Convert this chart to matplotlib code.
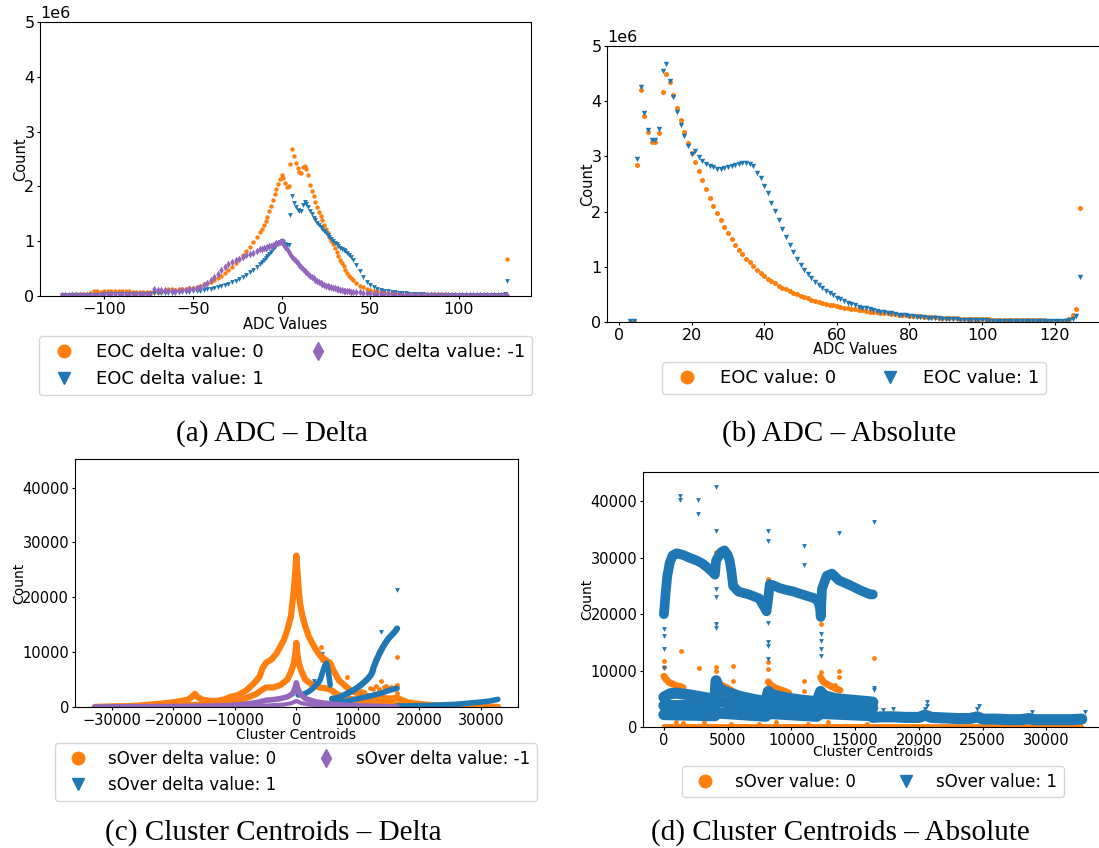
import matplotlib
matplotlib.use('Agg')
import matplotlib.pyplot as plt
from matplotlib.lines import Line2D
import numpy as np

ORANGE = '#ff7f0e'
BLUE = '#1f77b4'
PURPLE = '#9467bd'
nan = np.nan

# ---------------- (a) ADC - Delta (counts in millions) ----------------
xa = list(range(-124, -11, 2)) + list(range(-11, 41)) + list(range(42, 127, 2)) + [127]
ya_0 = [0.02, 0.02, 0.025, 0.03, 0.03, 0.03, 0.035, 0.04, 0.05, 0.085,
        0.085, 0.08, 0.085, 0.1, 0.1, 0.095, 0.09, 0.09, 0.085, 0.085,
        0.08, 0.08, 0.075, 0.075, 0.07, 0.07, 0.07, 0.075, 0.08, 0.1,
        0.12, 0.12, 0.115, 0.12, 0.125, 0.13, 0.14, 0.155, 0.17, 0.19,
        0.21, 0.23, 0.26, 0.29, 0.33, 0.37, 0.42, 0.47, 0.53, 0.6,
        0.67, 0.74, 0.82, 0.9, 0.98, 1.07, 1.17,
        1.23, 1.3, 1.37, 1.45, 1.55, 1.65, 1.76, 1.86, 1.95, 2.05,
        2.13, 2.2, 2.15, 2.06, 1.98, 2.0, 2.4, 2.69, 2.56, 2.43,
        2.34, 2.26, 2.24, 2.36, 2.38, 2.32, 2.2, 2.02, 1.92, 1.82,
        1.72, 1.62, 1.54, 1.46, 1.38, 1.3, 1.22, 1.15, 1.08, 1.01,
        0.94, 0.87, 0.8, 0.73, 0.66, 0.6, 0.54, 0.48, 0.42, 0.37,
        0.33, 0.29,
        0.23, 0.19, 0.16, 0.13, 0.11, 0.095, 0.085, 0.075, 0.065, 0.06,
        0.055, 0.05, 0.05, 0.045, 0.045, 0.04, 0.04, 0.04, 0.035, 0.035,
        0.035, 0.03, 0.03, 0.03, 0.03, 0.03, 0.025, 0.025, 0.025, 0.025,
        0.025, 0.025, 0.02, 0.02, 0.02, 0.02, 0.02, 0.02, 0.02, 0.02,
        0.015, 0.015, 0.04, 0.68]
ya_1 = [0.01, 0.01, 0.012, 0.015, 0.015, 0.018, 0.02, 0.02, 0.022, 0.025,
        0.025, 0.025, 0.028, 0.03, 0.03, 0.03, 0.032, 0.035, 0.035, 0.035,
        0.038, 0.04, 0.04, 0.04, 0.042, 0.045, 0.05, 0.05, 0.052, 0.055,
        0.058, 0.06, 0.063, 0.067, 0.07, 0.075, 0.08, 0.085, 0.09, 0.1,
        0.11, 0.12, 0.13, 0.145, 0.16, 0.18, 0.2, 0.22, 0.25, 0.28,
        0.31, 0.35, 0.39, 0.43, 0.48, 0.53, 0.59,
        0.62, 0.65, 0.69, 0.73, 0.77, 0.81, 0.85, 0.89, 0.93, 0.96,
        0.99, 1.01, 0.98, 0.95, 0.93, 0.93, 1.47, 1.82, 1.70, 1.62,
        1.57, 1.55, 1.56, 1.66, 1.71, 1.68, 1.62, 1.55, 1.49, 1.43,
        1.38, 1.34, 1.30, 1.26, 1.22, 1.18, 1.15, 1.11, 1.08, 1.04,
        1.0, 0.97, 0.94, 0.91, 0.88, 0.86, 0.84, 0.82, 0.79, 0.75,
        0.71, 0.66,
        0.56, 0.45, 0.35, 0.26, 0.2, 0.16, 0.13, 0.11, 0.095, 0.085,
        0.075, 0.065, 0.058, 0.052, 0.047, 0.042, 0.038, 0.034, 0.03, 0.028,
        0.025, 0.023, 0.021, 0.02, 0.018, 0.017, 0.016, 0.015, 0.014, 0.013,
        0.012, 0.012, 0.011, 0.011, 0.01, 0.01, 0.01, 0.01, 0.01, 0.01,
        0.01, 0.01, 0.03, 0.27]
ya_m1 = [0.02, 0.02, 0.02, 0.022, 0.022, 0.024, 0.024, 0.025, 0.025, 0.026,
         0.026, 0.027, 0.028, 0.028, 0.029, 0.03, 0.03, 0.031, 0.032, 0.032,
         0.033, 0.034, 0.035, 0.036, 0.037, 0.038, 0.12, 0.115, 0.11, 0.105,
         0.1, 0.1, 0.1, 0.1, 0.105, 0.11, 0.12, 0.13, 0.15, 0.17,
         0.2, 0.24, 0.29, 0.35, 0.41, 0.47, 0.53, 0.58, 0.62, 0.65,
         0.68, 0.71, 0.74, 0.76, 0.79, 0.82, 0.85,
         0.86, 0.87, 0.88, 0.9, 0.91, 0.92, 0.93, 0.94, 0.96, 0.97,
         0.99, 1.0, 0.94, 0.89, 0.85, 0.8, 0.76, 0.72, 0.68, 0.64,
         0.6, 0.56, 0.53, 0.49, 0.46, 0.43, 0.4, 0.37, 0.34, 0.32,
         0.3, 0.28, 0.26, 0.24, 0.22, 0.2, 0.19, 0.18, 0.17, 0.16,
         0.15, 0.14, 0.13, 0.12, 0.115, 0.11, 0.1, 0.095, 0.09, 0.085,
         0.08, 0.076,
         0.07, 0.064, 0.058, 0.053, 0.049, 0.045, 0.041, 0.038, 0.035, 0.032,
         0.03, 0.028, 0.026, 0.024, 0.022, 0.021, 0.02, 0.019, 0.018, 0.017,
         0.016, 0.015, 0.015, 0.014, 0.014, 0.013, 0.013, 0.012, 0.012, 0.012,
         0.011, 0.011, 0.011, 0.01, 0.01, 0.01, 0.01, 0.01, 0.01, 0.01,
         0.01, 0.01, 0.01, 0.01]

# ---------------- (b) ADC - Absolute (counts in millions) ----------------
xb = list(range(3, 128))
yb_0 = [0.0, 0.01, 2.84, 4.21, 3.73, 3.44, 3.26, 3.26, 3.43, 4.17,
        4.50, 4.34, 4.11, 3.88, 3.66, 3.45, 3.25, 3.07, 2.90, 2.73,
        2.57, 2.41, 2.25, 2.11, 1.98, 1.84, 1.72, 1.61, 1.51, 1.40,
        1.31, 1.23, 1.15, 1.08, 1.01, 0.94, 0.88, 0.83, 0.78, 0.74,
        0.70, 0.66, 0.62, 0.60, 0.57, 0.52, 0.50, 0.47, 0.45, 0.43,
        0.40, 0.38, 0.36, 0.35, 0.33, 0.31, 0.30, 0.29, 0.28, 0.26,
        0.25, 0.24, 0.23, 0.22, 0.21, 0.20, 0.19, 0.185, 0.178, 0.17,
        0.162, 0.155, 0.148, 0.14, 0.132, 0.125, 0.12, 0.115, 0.11, 0.105,
        0.1, 0.095, 0.09, 0.086, 0.082, 0.078, 0.074, 0.07, 0.068, 0.066,
        0.064, 0.062, 0.06, 0.058, 0.056, 0.054, 0.052, 0.05, 0.048, 0.046,
        0.044, 0.042, 0.04, 0.039, 0.038, 0.037, 0.036, 0.035, 0.034, 0.033,
        0.032, 0.031, 0.03, 0.029, 0.028, 0.027, 0.026, 0.025, 0.025, 0.025,
        0.03, 0.05, 0.12, 0.23, 2.07]
yb_1 = [0.01, 0.01, 2.95, 4.26, 3.78, 3.48, 3.29, 3.30, 3.50, 4.54,
        4.67, 4.37, 4.07, 3.80, 3.56, 3.37, 3.19, 3.05, 3.09, 2.99,
        2.92, 2.87, 2.83, 2.80, 2.78, 2.78, 2.79, 2.80, 2.82, 2.84,
        2.86, 2.88, 2.88, 2.86, 2.82, 2.70, 2.60, 2.47, 2.33, 2.16,
        2.01, 1.84, 1.69, 1.54, 1.39, 1.26, 1.14, 1.04, 0.95, 0.87,
        0.80, 0.73, 0.67, 0.62, 0.57, 0.53, 0.49, 0.44, 0.41, 0.38,
        0.35, 0.33, 0.31, 0.28, 0.26, 0.25, 0.23, 0.21, 0.20, 0.19,
        0.178, 0.165, 0.155, 0.145, 0.135, 0.125, 0.118, 0.11, 0.103, 0.097,
        0.09, 0.085, 0.08, 0.075, 0.07, 0.065, 0.06, 0.055, 0.052, 0.049,
        0.046, 0.043, 0.04, 0.038, 0.036, 0.034, 0.032, 0.03, 0.029, 0.027,
        0.026, 0.024, 0.022, 0.021, 0.02, 0.019, 0.019, 0.018, 0.017, 0.017,
        0.016, 0.016, 0.015, 0.015, 0.014, 0.014, 0.013, 0.012, 0.012, 0.012,
        0.015, 0.03, 0.06, 0.10, 0.81]

# ---------------- (c) Cluster Centroids - Delta ----------------
xc_o1 = [-32768, -30000, -27000, -24500, -22000, -20000, -18700, -17600, -17000, -16500,
         -16100, -15300, -14100, -13000, -11800, -10700, -9500, -8100, -6900, -6000,
         -5500, -4900, -4000, -3200, -2600, -2000, -1450, -870, -580, -300,
         -150, 0, 150, 300, 580, 980, 1450, 2000, 2900, 3750,
         4600, 5500, 6000, 6900, 8100, 8900, 10100, 11800, 13500, 15300,
         16400, 17000, 18200, 20500, 23300, 26200, 29100, 32767]
yc_o1 = [0, 60, 150, 370, 610, 860, 1100, 1350, 1840, 2400,
         1840, 1350, 1100, 1100, 1350, 1840, 2150, 3070, 4300, 5500,
         7050, 8100, 8700, 9800, 11000, 12300, 14100, 16600, 19600, 22700,
         25000, 27600, 25000, 22700, 19000, 16600, 14700, 12900, 11000, 9500,
         8700, 8000, 6750, 4900, 3700, 2950, 2450, 1960, 1700, 1530,
         1700, 1350, 800, 490, 250, 120, 60, 0]
xc_o2 = [-32768, -25600, -19900, -16400, -14100, -11800, -10100, -8400, -6600, -5500,
         -4900, -3750, -2600, -1450, -870, -400, -150, 0, 150, 400,
         870, 1450, 2600, 3750, 4900, 5500, 6600, 8400, 10100, 12400,
         14700, 17000, 20500, 26200, 32767]
yc_o2 = [0, 120, 250, 370, 490, 740, 1100, 1530, 2330, 3200,
         3560, 3560, 4000, 5000, 6400, 8000, 9800, 11700, 9800, 8000,
         6400, 5000, 4000, 3560, 3370, 3200, 2330, 1530, 1230, 860,
         610, 370, 250, 120, 0]
xc_o3 = [4000, 4200, 4500, 4800, 5200, 5600, 8200, 10500, 11000, 12000, 12500, 13000,
         13500, 13800, 14200, 14600, 15000, 15400, 15800, 16200, 16400, 16400, 16400, 4030]
yc_o3 = [9000, 8600, 8300, 8600, 8200, 7800, 5500, 3000, 2800, 3500, 3200, 3800,
         3300, 4800, 3600, 3900, 3400, 3700, 3500, 3800, 4000, 9100, 2600, 10900]
xc_b1 = [300, 1000, 1500, 2000, 2600, 3000, 3500, 3900, 4300, 4600, 4900, 5200, 5500]
yc_b1 = [2200, 2300, 2500, 2800, 3300, 3800, 4300, 5000, 6500, 7500, 8000, 6500, 4000]
xc_b2 = [5800, 6600, 7500, 8500, 9500, 10500, 11500, 12100, 12400, 12500, 13000, 13500,
         14000, 14500, 15000, 15500, 16000, 16384]
yc_b2 = [1500, 1600, 2000, 2600, 3200, 4000, 5000, 5800, 6500, 7000, 8500, 9700,
         10800, 11700, 12500, 13100, 13700, 14300]
xc_b3 = [4500, 6000, 8000, 10000, 12000, 13000, 14000, 15000, 16384]
yc_b3 = [300, 600, 1000, 1500, 2000, 2300, 2600, 3000, 3400]
xc_b4 = [16400, 18000, 20000, 22000, 24000, 26000, 28000, 30000, 31500, 32767]
yc_b4 = [200, 200, 250, 300, 400, 500, 700, 900, 1100, 1400]
xc_b5 = [16400, 13700, 4100, 2900, 2500]
yc_b5 = [21300, 13600, 9600, 4700, 4400]
xc_p1 = [-32768, -25600, -17000, -11200, -8400, -6000, -4900, -3750, -2600, -1450, -580,
         -200, 0, 200, 580, 1450, 3200, 6000, 8900, 14700, 16384]
yc_p1 = [0, 60, 120, 250, 490, 920, 1230, 1350, 1530, 1840, 2450,
         3500, 4400, 3500, 2450, 1530, 920, 490, 250, 60, 0]
xc_p2 = [-10000, -5000, -2000, -800, 0, 800, 2000, 5000, 10000]
yc_p2 = [100, 250, 450, 700, 1100, 700, 450, 250, 100]

# ---------------- (d) Cluster Centroids - Absolute ----------------
xd_b1 = [0, 60, 136, 270, 460, 680, 1000, 1500, 2000, 2580,
         3000, 3400, 3800, 4000, 4096, 4300, 4500, 4750, 5000, 5160,
         5300, 5430, 5840, 6660, 7470, 7880, 8050, 8192, 8300, 8700,
         9100, 9600, 10190, 10700, 11280, 11700, 12090, 12250, 12300, 12400,
         12770, 13180, 13720, 14540, 15350, 16170, 16384]
yd_b1 = [20000, 21500, 23800, 26800, 29100, 30400, 30800, 30500, 30000, 29500,
         29000, 28300, 27500, 27000, 29500, 30300, 31000, 31300, 30500, 29500,
         27500, 25000, 24000, 23500, 22800, 21200, 20500, 23000, 25300, 25000,
         24600, 24300, 24000, 23600, 23200, 22900, 22400, 21000, 19500, 24500,
         26800, 27200, 26000, 25200, 24300, 23500, 23500]
xd_b2 = [0, 0, 0, 0, 4096, 4096, 4096, 4096, 8192, 8192, 8192, 8192,
         12288, 12288, 12288, 12288, 1300, 1300, 2660, 2660, 4096, 4096, 8192, 8192,
         10950, 10950, 13720, 16450, 16450, 16450]
yd_b2 = [17400, 16200, 13800, 10500, 24400, 23000, 18200, 17600, 18500, 15000, 14400, 12000,
         15300, 13800, 12500, 16500, 40900, 40300, 40200, 37800, 42500, 34800, 34800, 33000,
         32100, 28800, 34300, 36400, 7000, 6500]
xd_b3a = [0, 500, 1000, 2000, 3000, 4000, 4096, 4300, 5000, 6000, 7000, 8000,
          8192, 8400, 9000, 10000, 11000, 12000, 12288, 12500, 13500, 14500, 15500, 16384]
yd_b3a = [5300, 5900, 6000, 5700, 5300, 4900, 8200, 6800, 6100, 5400, 4900, 4500,
          6300, 5800, 5400, 5000, 4700, 4500, 6300, 5600, 5000, 4800, 4600, 4400]
xd_b3b = [0, 2000, 4000, 4096, 6000, 8000, 8192, 10000, 12000, 12288, 14000, 16384]
yd_b3b = [3800, 3800, 3400, 4700, 3700, 3200, 4300, 3500, 3200, 4300, 3700, 3400]
xd_b3c = [0, 4000, 4096, 8000, 8192, 12000, 12288, 16384]
yd_b3c = [2200, 2000, 2500, 1900, 2400, 1900, 2400, 2000]
xd_b4 = [16384, 17000, 18000, 19000, 20000, 20480, 21000, 22000, 23000, 24000, 24576,
         25000, 26000, 27000, 28000, 28672, 29000, 30000, 31000, 32000, 32767]
yd_b4 = [1700, 1800, 1800, 1700, 1700, 2100, 1700, 1600, 1500, 1500, 1800,
         1400, 1400, 1300, 1300, 1500, 1300, 1300, 1300, 1300, 1400]
xd_b5 = [20650, 20650, 20480, 24700, 24576, 28900, 33000, 18000, 17200]
yd_b5 = [4400, 3800, 3200, 3800, 3200, 2600, 2600, 3200, 3000]
xd_o1 = [0, 150, 400, 700, 950, 1200, 1500, nan,
         4096, 4300, 4600, 4900, 5200, 5500, nan,
         8192, 8400, 8700, 9000, 9400, 9800, nan,
         12288, 12500, 12800, 13100, 13400, 13800]
yd_o1 = [9000, 8500, 7900, 7600, 7350, 7200, 7000, nan,
         8500, 7700, 7300, 7000, 6600, 6200, nan,
         8000, 7400, 7000, 6700, 6400, 6000, nan,
         8800, 8000, 7600, 7200, 6900, 6500]
xd_o2 = [0, 0, 1360, 2720, 4080, 4096, 4096, 5430, 5430, 8200, 8192, 8192,
         10950, 10950, 12360, 12288, 13720, 13720, 16490, 13450,
         2040, 3130, 6110, 9370, 10730, 14800, 15620,
         950, 1500, 3130, 5300, 7470, 8830, 11280, 12900, 15900]
yd_o2 = [11650, 10600, 13500, 10500, 31000, 10600, 10000, 10900, 8200, 26200, 11600, 10300,
         8200, 6350, 18200, 9800, 10000, 8800, 12200, 7500,
         4100, 4400, 4400, 3800, 3500, 3800, 3500,
         900, 760, 900, 600, 600, 900, 600, 900, 600]
xd_o3 = [0, 16384, 32767]
yd_o3 = [150, 150, 100]

# ---------------- figure ----------------
W, H = 1099, 848
fig = plt.figure(figsize=(W / 100, H / 100), dpi=100)


def box(l, t, r, b):
    return [l / W, 1 - b / H, (r - l) / W, (b - t) / H]


def add_legend(ax, labels, markers, colors, cx, top, fs):
    handles = [Line2D([], [], ls='none', marker=m, color=c, markersize=9)
               for m, c in zip(markers, colors)]
    ax.legend(handles, labels, ncol=2, loc='upper center', fontsize=fs, borderaxespad=0,
              bbox_to_anchor=(cx / W, 1 - top / H), bbox_transform=fig.transFigure)


def band(ax, x, y, color, lw):
    ax.plot(x, y, color=color, lw=lw, solid_joinstyle='round', solid_capstyle='round')


def style(ax, tick_fs, label_fs, xlabel, xpad):
    ax.tick_params(labelsize=tick_fs, length=2.5, pad=1.5)
    ax.yaxis.get_offset_text().set_fontsize(tick_fs)
    ax.set_xlabel(xlabel, fontsize=label_fs, labelpad=xpad)
    ax.set_ylabel('Count', fontsize=label_fs, labelpad=-3)


ax_a = fig.add_axes(box(40, 22, 530.5, 296))
ax_b = fig.add_axes(box(607, 46, 1103, 322))
ax_c = fig.add_axes(box(74.7, 459, 518, 707))
ax_d = fig.add_axes(box(643, 472, 1102.6, 727))

# (a)
ax_a.scatter(xa, np.array(ya_0) * 1e6, s=10, marker='o', color=ORANGE, linewidths=0)
ax_a.scatter(xa, np.array(ya_1) * 1e6, s=12, marker='v', color=BLUE, linewidths=0)
ax_a.scatter(xa, np.array(ya_m1) * 1e6, s=15, marker='d', color=PURPLE, linewidths=0)
ax_a.set_xlim(-136.3, 140.4)
ax_a.set_ylim(0, 5e6)
style(ax_a, 11.5, 10.5, 'ADC Values', 0)
add_legend(ax_a, ['EOC delta value: 0', 'EOC delta value: 1', 'EOC delta value: -1'],
           ['o', 'v', 'd'], [ORANGE, BLUE, PURPLE], 285.5, 336, 13)

# (b)
ax_b.scatter(xb, np.array(yb_0) * 1e6, s=13, marker='o', color=ORANGE, linewidths=0)
ax_b.scatter(xb, np.array(yb_1) * 1e6, s=15, marker='v', color=BLUE, linewidths=0)
ax_b.set_xlim(-3.3, 133.3)
ax_b.set_ylim(0, 5e6)
style(ax_b, 11.5, 10.5, 'ADC Values', -0.5)
add_legend(ax_b, ['EOC value: 0', 'EOC value: 1'], ['o', 'v'], [ORANGE, BLUE], 854, 362, 13)

# (c)
band(ax_c, xc_o1, yc_o1, ORANGE, 4.5)
band(ax_c, xc_o2, yc_o2, ORANGE, 4.5)
ax_c.scatter(xc_o3, yc_o3, s=12, marker='o', color=ORANGE, linewidths=0)
band(ax_c, xc_b1, yc_b1, BLUE, 4)
band(ax_c, xc_b2, yc_b2, BLUE, 4.5)
band(ax_c, xc_b3, yc_b3, BLUE, 4)
band(ax_c, xc_b4, yc_b4, BLUE, 4)
ax_c.scatter(xc_b5, yc_b5, s=12, marker='v', color=BLUE, linewidths=0)
band(ax_c, xc_p1, yc_p1, PURPLE, 4)
band(ax_c, xc_p2, yc_p2, PURPLE, 3)
ax_c.set_xlim(-36044, 36043)
ax_c.set_ylim(0, 45200)
style(ax_c, 10.5, 10, 'Cluster Centroids', 0)
add_legend(ax_c, ['sOver delta value: 0', 'sOver delta value: 1', 'sOver delta value: -1'],
           ['o', 'v', 'd'], [ORANGE, BLUE, PURPLE], 296, 743, 12)

# (d)
band(ax_d, xd_o3, yd_o3, ORANGE, 3)
band(ax_d, xd_o1, yd_o1, ORANGE, 5)
ax_d.scatter(xd_o2, yd_o2, s=12, marker='o', color=ORANGE, linewidths=0)
band(ax_d, xd_b3a, yd_b3a, BLUE, 8)
band(ax_d, xd_b3b, yd_b3b, BLUE, 8)
band(ax_d, xd_b3c, yd_b3c, BLUE, 8)
band(ax_d, xd_b1, yd_b1, BLUE, 7)
band(ax_d, xd_b4, yd_b4, BLUE, 8)
ax_d.scatter(xd_b2, yd_b2, s=12, marker='v', color=BLUE, linewidths=0)
ax_d.scatter(xd_b5, yd_b5, s=12, marker='v', color=BLUE, linewidths=0)
ax_d.set_xlim(-1638, 34405)
ax_d.set_ylim(0, 45200)
style(ax_d, 10.5, 10, 'Cluster Centroids', -1.5)
add_legend(ax_d, ['sOver value: 0', 'sOver value: 1'], ['o', 'v'], [ORANGE, BLUE], 873, 766, 12)

# captions
cap = dict(ha='center', va='center', family='Liberation Serif', fontsize=21)
fig.text(272 / W, 1 - 434 / H, '(a) ADC \u2013 Delta', **cap)
fig.text(839 / W, 1 - 434 / H, '(b) ADC \u2013 Absolute', **cap)
fig.text(273 / W, 1 - 833 / H, '(c) Cluster Centroids \u2013 Delta', **cap)
fig.text(840 / W, 1 - 833 / H, '(d) Cluster Centroids \u2013 Absolute', **cap)

fig.savefig('out.png', dpi=100)
